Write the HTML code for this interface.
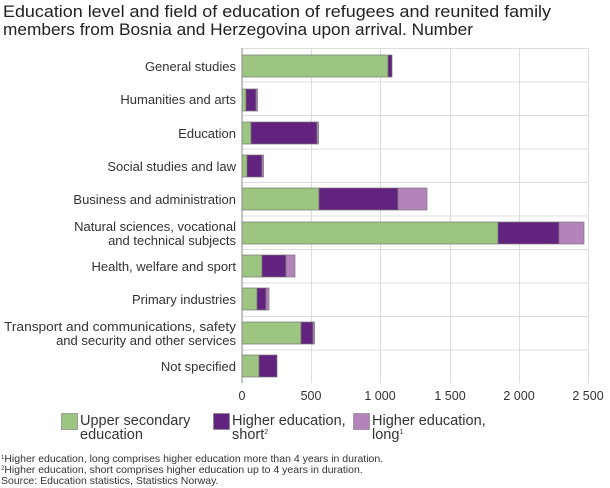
<!DOCTYPE html>
<html><head><meta charset="utf-8"><style>
body{margin:0;background:#fff}
svg{display:block;font-family:"Liberation Sans",sans-serif}
</style></head><body>
<svg width="610" height="488" viewBox="0 0 610 488">
<text x="3" y="17" font-size="17" fill="#222" textLength="548" lengthAdjust="spacingAndGlyphs">Education level and field of education of refugees and reunited family</text>
<text x="3" y="35" font-size="17" fill="#222" textLength="470" lengthAdjust="spacingAndGlyphs">members from Bosnia and Herzegovina upon arrival. Number</text>
<g stroke="#ddd" stroke-width="1">
<line x1="311.5" y1="48" x2="311.5" y2="383"/>
<line x1="380.5" y1="48" x2="380.5" y2="383"/>
<line x1="450.5" y1="48" x2="450.5" y2="383"/>
<line x1="519.5" y1="48" x2="519.5" y2="383"/>
<line x1="588.5" y1="48" x2="588.5" y2="383"/>
<line x1="242" y1="48.5" x2="588" y2="48.5"/>
<line x1="242" y1="82" x2="588" y2="82"/>
<line x1="242" y1="115.5" x2="588" y2="115.5"/>
<line x1="242" y1="149" x2="588" y2="149"/>
<line x1="242" y1="182.5" x2="588" y2="182.5"/>
<line x1="242" y1="216" x2="588" y2="216"/>
<line x1="242" y1="249.5" x2="588" y2="249.5"/>
<line x1="242" y1="283" x2="588" y2="283"/>
<line x1="242" y1="316.5" x2="588" y2="316.5"/>
<line x1="242" y1="350" x2="588" y2="350"/>
</g>
<g stroke="#777" stroke-width="0.7">
<rect x="242" y="55" width="146" height="22" fill="#9dc582"/><rect x="388" y="55" width="4" height="22" fill="#62237e"/>
<rect x="242" y="89" width="4" height="22" fill="#9dc582"/><rect x="246" y="89" width="10" height="22" fill="#62237e"/><rect x="256" y="89" width="1.5" height="22" fill="#b483bb"/>
<rect x="242" y="122" width="9" height="22" fill="#9dc582"/><rect x="251" y="122" width="66" height="22" fill="#62237e"/><rect x="317" y="122" width="1.5" height="22" fill="#b483bb"/>
<rect x="242" y="155" width="5" height="22" fill="#9dc582"/><rect x="247" y="155" width="15" height="22" fill="#62237e"/><rect x="262" y="155" width="1.5" height="22" fill="#b483bb"/>
<rect x="242" y="188" width="77" height="22" fill="#9dc582"/><rect x="319" y="188" width="79" height="22" fill="#62237e"/><rect x="398" y="188" width="29" height="22" fill="#b483bb"/>
<rect x="242" y="222" width="256" height="22" fill="#9dc582"/><rect x="498" y="222" width="61" height="22" fill="#62237e"/><rect x="559" y="222" width="25" height="22" fill="#b483bb"/>
<rect x="242" y="255" width="20" height="22" fill="#9dc582"/><rect x="262" y="255" width="24" height="22" fill="#62237e"/><rect x="286" y="255" width="9" height="22" fill="#b483bb"/>
<rect x="242" y="288" width="15" height="22" fill="#9dc582"/><rect x="257" y="288" width="9" height="22" fill="#62237e"/><rect x="266" y="288" width="3" height="22" fill="#b483bb"/>
<rect x="242" y="322" width="59" height="22" fill="#9dc582"/><rect x="301" y="322" width="12" height="22" fill="#62237e"/><rect x="313" y="322" width="1.5" height="22" fill="#b483bb"/>
<rect x="242" y="355" width="17" height="22" fill="#9dc582"/><rect x="259" y="355" width="18" height="22" fill="#62237e"/>
</g>
<line x1="242" y1="48" x2="242" y2="383" stroke="#888" stroke-width="1"/>
<g font-size="13" fill="#333" text-anchor="end">
<text x="236" y="71">General studies</text>
<text x="236" y="104">Humanities and arts</text>
<text x="236" y="138">Education</text>
<text x="236" y="171">Social studies and law</text>
<text x="236" y="204">Business and administration</text>
<text x="236" y="231">Natural sciences, vocational</text>
<text x="236" y="245">and technical subjects</text>
<text x="236" y="271">Health, welfare and sport</text>
<text x="236" y="304">Primary industries</text>
<text x="236" y="331" textLength="232" lengthAdjust="spacingAndGlyphs">Transport and communications, safety</text>
<text x="236" y="345">and security and other services</text>
<text x="236" y="371">Not specified</text>
</g>
<g font-size="12.5" fill="#333" text-anchor="middle">
<text x="242" y="400">0</text><text x="311" y="400">500</text><text x="380" y="400">1 000</text>
<text x="450" y="400">1 500</text><text x="519" y="400">2 000</text><text x="588" y="400">2 500</text>
</g>
<g stroke="#888" stroke-width="0.7">
<rect x="61.5" y="413.5" width="16" height="16" fill="#9dc582"/>
<rect x="213.5" y="413.5" width="16" height="16" fill="#62237e"/>
<rect x="353.5" y="413.5" width="16" height="16" fill="#b483bb"/>
</g>
<g font-size="14.5" fill="#333">
<text x="80" y="425">Upper secondary</text><text x="80" y="439">education</text>
<text x="232" y="425">Higher education,</text><text x="232" y="439">short<tspan font-size="7" dy="-5">2</tspan></text>
<text x="372" y="425">Higher education,</text><text x="372" y="439">long<tspan font-size="7" dy="-5">1</tspan></text>
</g>
<g font-size="10.5" fill="#333">
<text x="1" y="462"><tspan font-size="6" dy="-3">1</tspan><tspan dy="3">Higher education, long comprises higher education more than 4 years in duration.</tspan></text>
<text x="1" y="473"><tspan font-size="6" dy="-3">2</tspan><tspan dy="3">Higher education, short comprises higher education up to 4 years in duration.</tspan></text>
<text x="1" y="484">Source: Education statistics, Statistics Norway.</text>
</g>
</svg>
</body></html>
